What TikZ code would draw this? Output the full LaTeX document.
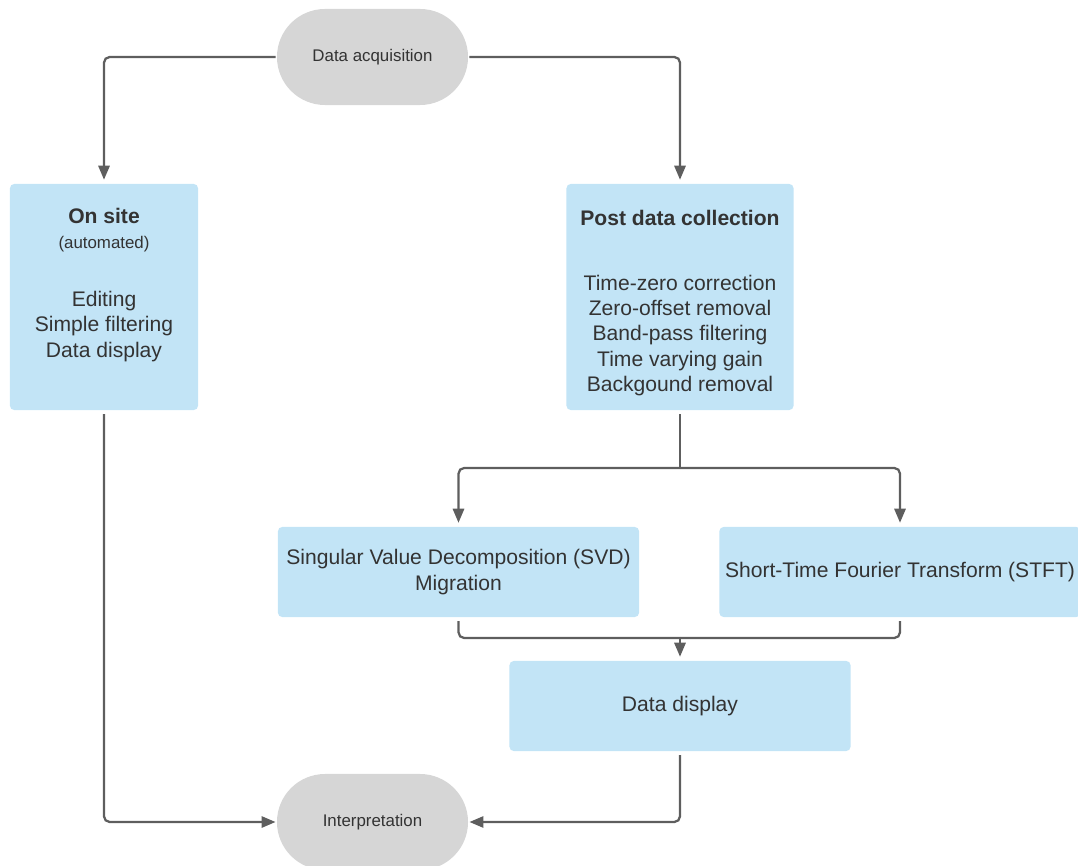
\documentclass[tikz,border=0pt]{standalone}
\usepackage{fontspec}
\setmainfont{Liberation Sans}
\usepackage{tikz}
\usetikzlibrary{arrows.meta}
\definecolor{cFillBlue}{RGB}{194,228,246}
\definecolor{cFillGray}{RGB}{214,214,214}
\definecolor{cLine}{RGB}{94,94,94}
\definecolor{cText}{RGB}{51,51,51}
\tikzset{
  %% start / end terminals
  terminal/.style={rectangle, rounded corners=1.2cm, fill=cFillGray, text=cText,
                   minimum width=4.775cm, minimum height=2.4cm,
                   font=\fontsize{12}{14}\selectfont, outer sep=1pt},
  %% processing boxes
  procbox/.style={rectangle, rounded corners=3pt, fill=cFillBlue, text=cText,
                  align=center, font=\fontsize{15}{18}\selectfont,
                  inner sep=4pt, outer sep=3pt},
  boxtext/.style={text=cText, align=center, font=\fontsize{15}{18}\selectfont},
  %% connectors
  link/.style={draw=cLine, line width=1.6pt, rounded corners=4pt},
  flow/.style={link, -{Triangle[length=10pt, width=8pt]}},
}
\begin{document}
\begin{tikzpicture}[x=0.025cm, y=-0.025cm]

\useasboundingbox (0,0) rectangle (1078,866);
\clip (0,0) rectangle (1078,866);

%% ============================================================
%%  COLUMN POSITIONS
%% ============================================================
\def\xL{104}
\def\xM{372.5}
\def\xR{680}

%% ----- Terminals -----
\node[terminal] (acq)    at (\xM,  57) {Data acquisition};
\node[terminal] (interp) at (\xM, 822) {Interpretation};

%% ----- On site -----
\node[procbox, minimum width=4.7cm, minimum height=5.65cm] (onsite) at (\xL, 297) {};
\node[boxtext] (onsiteTxt) at (\xL, 285) {%
  \textbf{On site}\\
  {\fontsize{12}{14}\selectfont (automated)}\\[23pt]
  Editing\\
  Simple filtering\\
  Data display
};

%% ----- Post data collection -----
\node[procbox, minimum width=5.675cm, minimum height=5.65cm] (post) at (\xR, 297) {};
\node[boxtext] (postTxt) at (\xR, 303) {%
  \textbf{Post data collection}\\[28pt]
  Time-zero correction\\
  Zero-offset removal\\
  Band-pass filtering\\
  Time varying gain\\
  Backgound removal
};

%% ----- Processing -----
\node[procbox, minimum width=9.025cm, minimum height=2.25cm] (svd) at (458.5, 572) {%
  Singular Value Decomposition (SVD)\\
  Migration
};
\node[procbox, minimum width=9cm, minimum height=2.25cm] (stft) at (900, 572)
  {Short-Time Fourier Transform (STFT)};
\node[procbox, minimum width=8.525cm, minimum height=2.25cm] (display) at (\xR, 706)
  {Data display};

%% ============================================================
%%  CONNECTORS
%% ============================================================
\coordinate (split) at (\xR, 468);
\coordinate (merge) at (\xR, 638);

\draw[flow] (acq.west) -| (onsite.north);
\draw[flow] (acq.east) -| (post.north);

\draw[link] (post.south) -- (split);
\draw[flow] (split) -| (svd.north);
\draw[flow] (split) -| (stft.north);

\draw[link] (svd.south) |- (merge);
\draw[link] (stft.south) |- (merge);
\draw[flow] (merge) -- (display.north);

\draw[flow] (onsite.south) |- (interp.west);
\draw[flow] (display.south) |- (interp.east);

\end{tikzpicture}
\end{document}
